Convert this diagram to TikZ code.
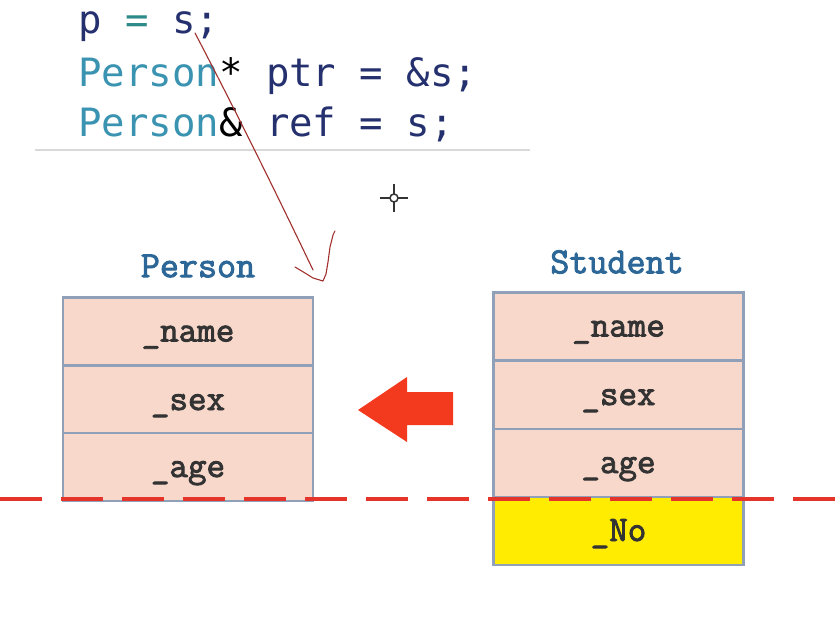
\documentclass[tikz,border=0pt]{standalone}
\usepackage{fontspec}
\newfontfamily\codefont{DejaVu Sans Mono}
\newfontfamily\boxfont{Latin Modern Mono}[FakeBold=2.4]
\definecolor{navy}{HTML}{25306E}
\definecolor{tealeq}{HTML}{2E8A8A}
\definecolor{typec}{HTML}{3A93B0}
\definecolor{peach}{HTML}{F8D8CB}
\definecolor{boxline}{HTML}{8FA0B8}
\definecolor{lblblue}{HTML}{2C6797}
\definecolor{dashred}{HTML}{E5352A}
\definecolor{arrowred}{HTML}{F33A1F}
\definecolor{inkred}{HTML}{A0302E}
\definecolor{yel}{HTML}{FFEC00}
\newcommand{\ftxt}[1]{\raisebox{-10pt}[0pt][0pt]{#1}}
\tikzset{
  codeline/.style={anchor=base west, inner sep=0pt, font=\codefont\fontsize{39}{41}\selectfont, text=navy},
  field/.style={draw=boxline, line width=2.8pt, fill=peach, minimum width=250pt, minimum height=68pt, inner sep=0pt, font=\boxfont\fontsize{36}{38}\selectfont, text=black!80},
  clsname/.style={inner sep=0pt, font=\boxfont\fontsize{37}{39}\selectfont, text=lblblue},
}
\begin{document}
\begin{tikzpicture}[x=1pt,y=-1pt]
\useasboundingbox (0,0) rectangle (837,616);
\fill[white] (0,0) rectangle (837,616);
% code
\node[codeline] (l1) at (78,33) {p \textcolor{tealeq}{=} s;};
\node[codeline] (l2) at (78,86) {\textcolor{typec}{Person}\textcolor{black}{*} ptr = \&s;};
\node[codeline] (l3) at (78,136) {\textcolor{typec}{Person}\textcolor{black}{\&} ref = s;};
\draw[line width=2pt, black!15] (35,150) -- (530,150);
% cursor
\coordinate (cur) at (394,198);
\draw[line width=1.5pt, black!80] (cur) circle (4);
\draw[line width=1.8pt, black!80] (380,198) -- (390,198) (398,198) -- (408,198) (394,184) -- (394,194) (394,202) -- (394,212);
% Person
\node[clsname] (plbl) at (198,266) {Person};
\node[field] (pname) at (188,331.5) {\ftxt{\_name}};
\node[field] (psex) at (188,400) {\ftxt{\_sex}};
\node[field] (page) at (188,467) {\ftxt{\_age}};
% Student
\node[clsname] (slbl) at (617,262) {Student};
\node[field] (sname) at (618.5,326.5) {\ftxt{\_name}};
\node[field] (ssex) at (618.5,395) {\ftxt{\_sex}};
\node[field] (sage) at (618.5,463) {\ftxt{\_age}};
\node[field, fill=yel] (sno) at (618.5,531) {\ftxt{\_No}};
% dashed line
\coordinate (dl) at (0,499);
\coordinate (dr) at (837,499);
\draw[dashred, line width=4pt, dash pattern=on 42pt off 19pt] (dl) -- (dr);
% big red arrow
\fill[arrowred] (358,410) -- (407,377) -- (407,392) -- (453,392) -- (453,425) -- (407,425) -- (407,442) -- cycle;
% hand-drawn arrow
\coordinate (hs) at (195,33);
\coordinate (he) at (313,270);
\draw[inkred, line width=1.1pt, line cap=round] (hs) .. controls (230,100) and (270,180) .. (he);
\draw[inkred, line width=1.1pt, line cap=round, line join=round] (295,267) -- (305,273) -- (313,278) -- (323,281) -- (326,274) -- (328,262) -- (330,247) -- (333,235) -- (335,231);
\end{tikzpicture}
\end{document}
